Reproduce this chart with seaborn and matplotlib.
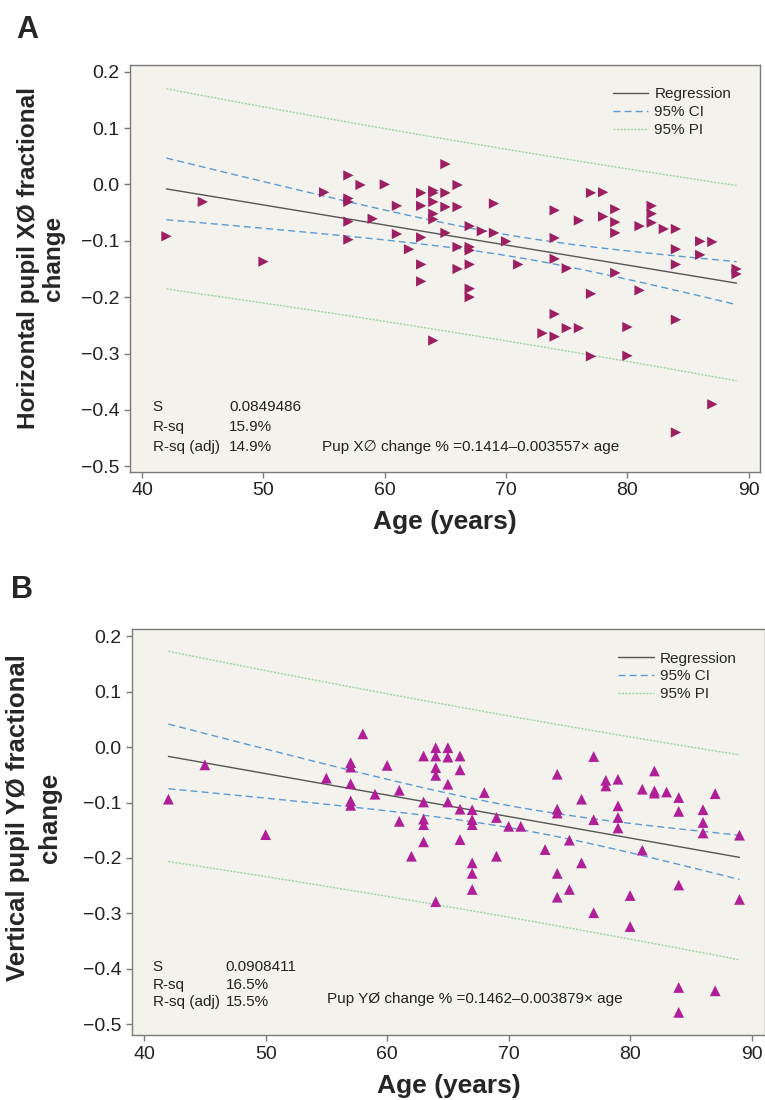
import numpy as np
import pandas as pd
import matplotlib
matplotlib.use('Agg')
import matplotlib.pyplot as plt
import seaborn as sns

# Panel A: horizontal pupil change vs age
age_x = [42, 45, 50, 55,
         57, 57, 57, 57, 57, 58, 59, 60, 61, 61, 62,
         63, 63, 63, 63, 63,
         64, 64, 64, 64, 64, 64,
         65, 65, 65, 65, 66, 66, 66, 66,
         67, 67, 67, 67, 67, 67, 68, 69, 69, 70, 71, 73,
         74, 74, 74, 74, 74, 75, 75, 76, 76, 77, 77, 77, 78, 78,
         79, 79, 79, 79, 80, 80, 81, 81, 82, 82, 82, 83,
         84, 84, 84, 84, 84, 86, 86, 87, 87, 89, 89]
chg_x = [-0.092, -0.031, -0.137, -0.014,
         0.016, -0.025, -0.031, -0.066, -0.098, -0.001, -0.061, 0.000, -0.038, -0.088, -0.115,
         -0.015, -0.038, -0.094, -0.142, -0.172,
         -0.011, -0.015, -0.031, -0.052, -0.062, -0.277,
         0.036, -0.015, -0.040, -0.086, -0.001, -0.040, -0.111, -0.150,
         -0.074, -0.111, -0.117, -0.142, -0.185, -0.200, -0.083, -0.034, -0.086, -0.101, -0.142, -0.264,
         -0.046, -0.095, -0.132, -0.230, -0.270, -0.149, -0.255, -0.064, -0.255, -0.015, -0.194, -0.305, -0.014, -0.057,
         -0.044, -0.067, -0.086, -0.157, -0.253, -0.304, -0.074, -0.188, -0.038, -0.052, -0.068, -0.079,
         -0.079, -0.115, -0.142, -0.240, -0.440, -0.101, -0.125, -0.102, -0.390, -0.150, -0.159]

# Panel B: vertical pupil change vs age
age_y = [42, 45, 50, 55,
         57, 57, 57, 57, 57, 58, 59, 60, 61, 61, 62,
         63, 63, 63, 63, 63,
         64, 64, 64, 64, 64,
         65, 65, 65, 65, 66, 66, 66, 66,
         67, 67, 67, 67, 67, 67, 68, 69, 69, 70, 71, 73,
         74, 74, 74, 74, 74, 75, 75, 76, 76, 77, 77, 77, 78, 78,
         79, 79, 79, 79, 80, 80, 81, 81, 82, 82, 82, 83,
         84, 84, 84, 84, 84, 86, 86, 86, 87, 87, 89, 89]
chg_y = [-0.094, -0.032, -0.158, -0.056,
         -0.028, -0.036, -0.066, -0.097, -0.105, 0.024, -0.085, -0.033, -0.078, -0.134, -0.197,
         -0.016, -0.099, -0.130, -0.140, -0.171,
         -0.001, -0.016, -0.037, -0.051, -0.279,
         -0.001, -0.018, -0.067, -0.099, -0.016, -0.041, -0.112, -0.167,
         -0.113, -0.131, -0.140, -0.209, -0.228, -0.257, -0.082, -0.127, -0.197, -0.143, -0.143, -0.185,
         -0.049, -0.112, -0.119, -0.228, -0.271, -0.168, -0.257, -0.094, -0.209, -0.017, -0.131, -0.299, -0.060, -0.070,
         -0.058, -0.106, -0.127, -0.146, -0.268, -0.324, -0.076, -0.186, -0.043, -0.079, -0.083, -0.081,
         -0.091, -0.116, -0.249, -0.434, -0.479, -0.113, -0.136, -0.155, -0.084, -0.440, -0.159, -0.275]

# fitted models as printed on the chart
fit_x = {'b0': 0.1414, 'b1': -0.003557, 's': 0.0849486, 'rsq': '15.9%', 'rsq_adj': '14.9%'}
fit_y = {'b0': 0.1462, 'b1': -0.003879, 's': 0.0908411, 'rsq': '16.5%', 'rsq_adj': '15.5%'}
t_crit = 1.989

sns.set_style('ticks')
plt.rcParams['font.family'] = ['Liberation Sans', 'DejaVu Sans']
plt.rcParams['axes.facecolor'] = '#f3f2ec'
plt.rcParams['axes.edgecolor'] = '#7a7a7a'
plt.rcParams['xtick.color'] = '#7a7a7a'
plt.rcParams['ytick.color'] = '#7a7a7a'
plt.rcParams['xtick.labelcolor'] = '#222222'
plt.rcParams['ytick.labelcolor'] = '#222222'


def band_frame(ages, fit):
    a = np.asarray(ages, dtype=float)
    n = len(a)
    xs = np.linspace(a.min(), a.max(), 60)
    yhat = fit['b0'] + fit['b1'] * xs
    se = fit['s'] * np.sqrt(1.0 / n + (xs - a.mean()) ** 2 / ((a - a.mean()) ** 2).sum())
    sp = np.sqrt(fit['s'] ** 2 + se ** 2)
    return pd.DataFrame({'age': xs, 'fit': yhat,
                         'ci_lo': yhat - t_crit * se, 'ci_hi': yhat + t_crit * se,
                         'pi_lo': yhat - t_crit * sp, 'pi_hi': yhat + t_crit * sp})


def draw_panel(ax, ages, vals, fit, marker, color, msize, ylabel, ylab_size, ylab_ls, ylim, xlim):
    pts = pd.DataFrame({'age': ages, 'chg': vals})
    band = band_frame(ages, fit)
    sns.scatterplot(data=pts, x='age', y='chg', marker=marker, color=color, s=msize,
                    edgecolor='none', ax=ax, zorder=3)
    sns.lineplot(data=band, x='age', y='fit', color='#555555', lw=1.0, ax=ax, label='Regression')
    sns.lineplot(data=band, x='age', y='ci_lo', color='#5b9bd5', lw=1.0, ax=ax,
                 linestyle=(0, (5, 3)), label='95% CI')
    sns.lineplot(data=band, x='age', y='ci_hi', color='#5b9bd5', lw=1.0, ax=ax,
                 linestyle=(0, (5, 3)))
    sns.lineplot(data=band, x='age', y='pi_lo', color='#9fd49f', lw=1.0, ax=ax,
                 linestyle=(0, (1.5, 1)), label='95% PI')
    sns.lineplot(data=band, x='age', y='pi_hi', color='#9fd49f', lw=1.0, ax=ax,
                 linestyle=(0, (1.5, 1)))
    ax.set_xlim(*xlim)
    ax.set_ylim(*ylim)
    ax.set_xticks([40, 50, 60, 70, 80, 90])
    ax.set_yticks([0.2, 0.1, 0.0, -0.1, -0.2, -0.3, -0.4, -0.5])
    ax.set_yticklabels(['0.2', '0.1', '0.0', '\u22120.1', '\u22120.2', '\u22120.3', '\u22120.4', '\u22120.5'])
    ax.tick_params(labelsize=14, length=4, width=1)
    ax.set_xlabel('Age (years)', fontsize=19, fontweight='bold', labelpad=8)
    ax.set_ylabel(ylabel, fontsize=ylab_size, fontweight='bold', linespacing=ylab_ls)
    for sp in ax.spines.values():
        sp.set_linewidth(1.0)
    ax.legend(loc='upper right', bbox_to_anchor=(0.955, 0.945), frameon=False,
              fontsize=11, handlelength=2.3, handletextpad=0.4, labelspacing=0.25,
              borderpad=0, borderaxespad=0)


fig = plt.figure(figsize=(7.65, 11.0), dpi=100)
ax1 = fig.add_axes([0.170, 0.571, 0.823, 0.370])
ax2 = fig.add_axes([0.1725, 0.059, 0.8275, 0.369])

draw_panel(ax1, age_x, chg_x, fit_x, '>', '#9c1f62', 55,
           'Horizontal pupil X\u00d8 fractional\nchange', 17.5, 1.15, (-0.510, 0.212), (39.0, 90.9))
draw_panel(ax2, age_y, chg_y, fit_y, '^', '#b01e98', 60,
           'Vertical pupil Y\u00d8 fractional\nchange', 18.5, 1.4, (-0.520, 0.213), (39.0, 91.1))

ax1.yaxis.set_label_coords(-0.103, 0.525)
ax2.yaxis.set_label_coords(-0.111, 0.535)

# stats boxes
for ax, fit, xs_, ys_, vx, eqx, eqy, eq in [
        (ax1, fit_x, 0.036, [0.160, 0.111, 0.061], 0.157, 0.305, 0.061,
         'Pup X\u2205 change % =0.1414\u20130.003557\u00d7 age'),
        (ax2, fit_y, 0.033, [0.167, 0.123, 0.081], 0.148, 0.308, 0.089,
         'Pup Y\u00d8 change % =0.1462\u20130.003879\u00d7 age')]:
    labels = ['S', 'R-sq', 'R-sq (adj)']
    values = ['%.7f' % fit['s'], fit['rsq'], fit['rsq_adj']]
    for lab, val, yy in zip(labels, values, ys_):
        ax.text(xs_, yy, lab, transform=ax.transAxes, fontsize=11, va='center', color='#222222')
        ax.text(vx, yy, val, transform=ax.transAxes, fontsize=11, va='center', color='#222222')
    ax.text(eqx, eqy, eq, transform=ax.transAxes, fontsize=11, va='center', color='#222222')

fig.text(0.035, 0.973, 'A', fontsize=22, fontweight='bold', ha='center', va='center')
fig.text(0.029, 0.464, 'B', fontsize=22, fontweight='bold', ha='center', va='center')

fig.savefig('out.png', dpi=100, facecolor='white')
